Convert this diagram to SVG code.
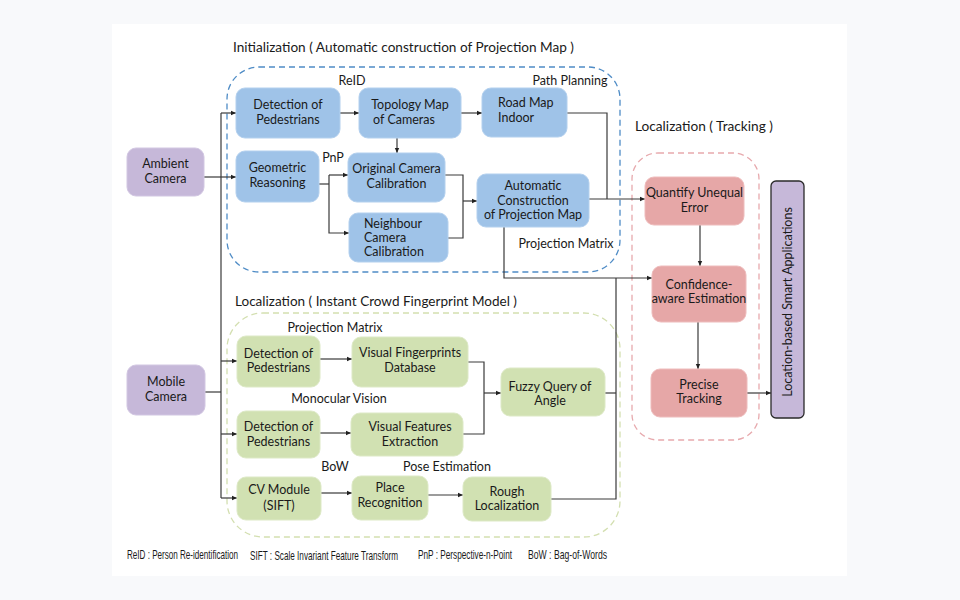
<svg xmlns="http://www.w3.org/2000/svg" width="960" height="600" viewBox="0 0 960 600">
<defs>
<marker id="ah" markerWidth="6" markerHeight="6" refX="5" refY="3" orient="auto" markerUnits="userSpaceOnUse">
<path d="M0,0.8 L5,3 L0,5.2 Z" fill="#222"/>
</marker>
<style>
.t{font-family:Lato,"Open Sans",sans-serif;font-size:12.5px;fill:#1a1a1a;text-anchor:middle}
.l{text-anchor:start}
.h{font-family:Lato,"Open Sans",sans-serif;font-size:14px;fill:#1a1a1a}
.f{font-family:"Liberation Sans",sans-serif;font-size:12px;fill:#1a1a1a}
.blue rect{fill:#9fc3e8;stroke:#b3d0ee;stroke-width:1}
.green rect{fill:#d1e1b2;stroke:#dde9c6;stroke-width:1}
.red rect{fill:#e6a7a7;stroke:#eebcbc;stroke-width:1}
.purple rect{fill:#c6b8d9;stroke:#d2c7e2;stroke-width:1}
.c path{fill:none;stroke:#3a3a3a;stroke-width:1.2}
.c path.a{marker-end:url(#ah)}
.box{fill:none;stroke-width:1.3;stroke-dasharray:6 4}
</style>
</defs>
<rect width="960" height="600" fill="#f8f9fb"/>
<rect x="112" y="24" width="735" height="552" fill="#ffffff"/>

<!-- group containers -->
<rect class="box" x="227" y="67" width="393" height="205" rx="32" stroke="#4f8cc6"/>
<rect class="box" x="227" y="313" width="393" height="224" rx="36" stroke="#d3dfb0"/>
<rect class="box" x="632" y="153" width="127" height="287" rx="26" stroke="#e7a9ad"/>

<!-- titles and labels -->
<text class="h" x="233" y="52" textLength="341" lengthAdjust="spacingAndGlyphs">Initialization ( Automatic construction of Projection Map )</text>
<text class="h" x="635" y="131" textLength="138" lengthAdjust="spacingAndGlyphs">Localization ( Tracking )</text>
<text class="h" x="235" y="306" textLength="282" lengthAdjust="spacingAndGlyphs">Localization ( Instant Crowd Fingerprint Model )</text>
<text class="t" x="352" y="85">ReID</text>
<text class="t" x="570" y="85">Path Planning</text>
<text class="t" x="333" y="162">PnP</text>
<text class="t" x="566" y="248">Projection Matrix</text>
<text class="t" x="335" y="332">Projection Matrix</text>
<text class="t" x="339" y="403">Monocular Vision</text>
<text class="t" x="335" y="471">BoW</text>
<text class="t" x="447" y="471">Pose Estimation</text>

<!-- connectors -->
<g class="c" id="connectors">
<path d="M204,177 H221"/>
<path d="M205,392 H221"/>
<path d="M221,113 V498"/>
<path class="a" d="M221,113 H236"/>
<path class="a" d="M221,177 H236"/>
<path class="a" d="M340,113 H359"/>
<path class="a" d="M461,113 H482"/>
<path class="a" d="M397,138 V153"/>
<path d="M319,184 H329"/>
<path class="a" d="M329,175 H348"/>
<path class="a" d="M329,175 V233 H349"/>
<path d="M445,175 H463 V238 H448"/>
<path class="a" d="M463,201 H477"/>
<path d="M567,113 H607 V199"/>
<path class="a" d="M589,199 H645"/>
<path d="M504,227 V278 H616"/>
<path class="a" d="M616,278 H652"/>
<path class="a" d="M700,225 V266"/>
<path class="a" d="M698,322 V369"/>
<path class="a" d="M747,393 H771"/>
<path class="a" d="M221,361 H237"/>
<path class="a" d="M221,434 H237"/>
<path class="a" d="M221,498 H237"/>
<path class="a" d="M320,359 H352"/>
<path class="a" d="M320,433 H351"/>
<path class="a" d="M321,493 H352"/>
<path class="a" d="M428,495 H463"/>
<path d="M468,362 H484 V434 H463"/>
<path class="a" d="M484,393 H501"/>
<path d="M605,393 H616"/>
<path d="M551,499 H616 V278"/>
</g>

<!-- purple nodes -->
<g id="ambient" class="purple"><rect x="127" y="148" width="77" height="48" rx="9"/>
<text class="t" x="165.5" y="168">Ambient</text><text class="t" x="165.5" y="183">Camera</text></g>
<g id="mobile" class="purple"><rect x="127" y="365" width="78" height="50" rx="9"/>
<text class="t" x="166" y="386">Mobile</text><text class="t" x="166" y="401">Camera</text></g>
<g id="apps" class="purple"><rect x="771" y="181" width="33" height="237" rx="5" style="stroke:#2a2a2a;stroke-width:1.3"/>
<text class="t" transform="translate(792,302) rotate(-90)">Location-based Smart Applications</text></g>

<!-- blue nodes -->
<g id="b_det" class="blue"><rect x="236" y="88" width="104" height="50" rx="9"/>
<text class="t" x="288" y="109">Detection of</text><text class="t" x="288" y="124">Pedestrians</text></g>
<g id="b_topo" class="blue"><rect x="359" y="88" width="102" height="50" rx="9"/>
<text class="t" x="410" y="109">Topology Map</text><text class="t" x="404" y="124">of Cameras</text></g>
<g id="b_road" class="blue"><rect x="482" y="88" width="85" height="49" rx="9"/>
<text class="t l" x="498" y="107">Road Map</text><text class="t l" x="498" y="122">Indoor</text></g>
<g id="b_geo" class="blue"><rect x="236" y="151" width="83" height="51" rx="9"/>
<text class="t" x="277.5" y="172">Geometric</text><text class="t" x="277.5" y="187">Reasoning</text></g>
<g id="b_orig" class="blue"><rect x="348" y="153" width="97" height="49" rx="9"/>
<text class="t" x="396.5" y="173">Original Camera</text><text class="t" x="396.5" y="188">Calibration</text></g>
<g id="b_neigh" class="blue"><rect x="349" y="213" width="99" height="49" rx="9"/>
<text class="t l" x="364" y="228">Neighbour</text><text class="t l" x="364" y="242">Camera</text><text class="t l" x="364" y="256">Calibration</text></g>
<g id="b_auto" class="blue"><rect x="477" y="174" width="112" height="53" rx="9"/>
<text class="t" x="533" y="190">Automatic</text><text class="t" x="533" y="204.5">Construction</text><text class="t" x="533" y="219">of Projection Map</text></g>

<!-- red nodes -->
<g id="r_quant" class="red"><rect x="645" y="177" width="99" height="48" rx="9"/>
<text class="t" x="694.5" y="197">Quantify Unequal</text><text class="t" x="694.5" y="212">Error</text></g>
<g id="r_conf" class="red"><rect x="652" y="266" width="94" height="56" rx="9"/>
<text class="t" x="699" y="289">Confidence-</text><text class="t" x="699" y="303">aware Estimation</text></g>
<g id="r_prec" class="red"><rect x="651" y="369" width="96" height="48" rx="9"/>
<text class="t" x="699" y="389">Precise</text><text class="t" x="699" y="403">Tracking</text></g>

<!-- green nodes -->
<g id="g_det1" class="green"><rect x="237" y="336" width="83" height="51" rx="9"/>
<text class="t" x="278.5" y="358">Detection of</text><text class="t" x="278.5" y="372">Pedestrians</text></g>
<g id="g_vfd" class="green"><rect x="352" y="337" width="116" height="50" rx="9"/>
<text class="t" x="410" y="357">Visual Fingerprints</text><text class="t" x="410" y="372">Database</text></g>
<g id="g_fuzzy" class="green"><rect x="501" y="368" width="104" height="48" rx="9"/>
<text class="t" x="550" y="391">Fuzzy Query of</text><text class="t" x="550" y="405">Angle</text></g>
<g id="g_det2" class="green"><rect x="237" y="411" width="83" height="47" rx="9"/>
<text class="t" x="278.5" y="431">Detection of</text><text class="t" x="278.5" y="446">Pedestrians</text></g>
<g id="g_vfe" class="green"><rect x="351" y="413" width="112" height="43" rx="9"/>
<text class="t" x="410" y="431">Visual Features</text><text class="t" x="410" y="446">Extraction</text></g>
<g id="g_cv" class="green"><rect x="237" y="477" width="84" height="43" rx="9"/>
<text class="t" x="279" y="494">CV Module</text><text class="t" x="279" y="510">(SIFT)</text></g>
<g id="g_place" class="green"><rect x="352" y="476" width="76" height="44" rx="9"/>
<text class="t" x="390" y="492">Place</text><text class="t" x="390" y="507">Recognition</text></g>
<g id="g_rough" class="green"><rect x="463" y="477" width="88" height="44" rx="9"/>
<text class="t" x="507" y="496">Rough</text><text class="t" x="507" y="510">Localization</text></g>

<!-- footnotes -->
<text class="f" transform="translate(127,559) scale(0.7,1)" textLength="158.6" lengthAdjust="spacingAndGlyphs">ReID : Person Re-identification</text>
<text class="f" transform="translate(250,560) scale(0.7,1)" textLength="211.4" lengthAdjust="spacingAndGlyphs">SIFT : Scale Invariant Feature Transform</text>
<text class="f" transform="translate(418,559) scale(0.7,1)" textLength="134.3" lengthAdjust="spacingAndGlyphs">PnP : Perspective-n-Point</text>
<text class="f" transform="translate(528,559) scale(0.7,1)" textLength="112.9" lengthAdjust="spacingAndGlyphs">BoW : Bag-of-Words</text>
</svg>
